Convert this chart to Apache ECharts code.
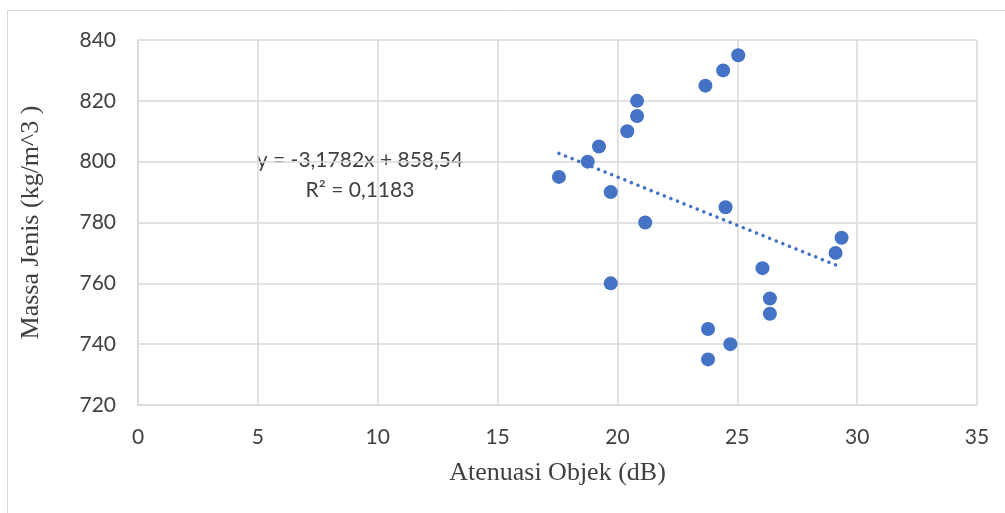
<!DOCTYPE html>
<html>
<head>
<meta charset="utf-8">
<script src="https://cdn.jsdelivr.net/npm/echarts@6/dist/echarts.min.js"></script>
<style>html,body{margin:0;padding:0;background:#fff}#c{width:1005px;height:513px}</style>
</head>
<body>
<div id="c"></div>
<script>
const atenuasi = [17.56, 18.76, 19.23, 19.72, 19.72, 20.41, 20.82, 20.82, 21.16, 23.67, 23.78, 23.78, 24.41, 24.51, 24.71, 25.04, 26.05, 26.36, 26.36, 29.1, 29.35];
const massa    = [795, 800, 805, 790, 760, 810, 815, 820, 780, 825, 745, 735, 830, 785, 740, 835, 765, 755, 750, 770, 775];
const slope = -3.1782;
const intercept = 858.54;
const trendX = [17.56, 29.35];
const equationText = 'y = -3,1782x + 858,54';
const r2Text = 'R² = 0,1183';
const xTitle = 'Atenuasi Objek (dB)';
const yTitle = 'Massa Jenis (kg/m^3 )';

const points = atenuasi.map((x, i) => [x, massa[i]]);
const trend = trendX.map(x => [x, slope * x + intercept]);

const chart = echarts.init(document.getElementById('c'));
const grid = '#d9d9d9';
const labelFont = { fontFamily: 'Lato, "Open Sans", sans-serif', fontSize: 21, color: '#404040' };
chart.setOption({
  animation: false,
  grid: { left: 138, top: 40, right: 28, bottom: 108 },
  xAxis: {
    type: 'value', min: 0, max: 35, interval: 5,
    name: xTitle, nameLocation: 'middle', nameGap: 55,
    nameTextStyle: { fontFamily: '"Liberation Serif", serif', fontSize: 26, color: '#404040' },
    axisLine: { show: true, lineStyle: { color: grid, width: 1.5 } },
    axisTick: { show: false },
    axisLabel: Object.assign({ margin: 22 }, labelFont),
    splitLine: { show: true, lineStyle: { color: grid, width: 1.5 } }
  },
  yAxis: {
    type: 'value', min: 720, max: 840, interval: 20,
    name: yTitle, nameLocation: 'middle', nameGap: 94,
    nameTextStyle: { fontFamily: '"Liberation Serif", serif', fontSize: 26, color: '#404040' },
    axisLine: { show: true, lineStyle: { color: grid, width: 1.5 } },
    axisTick: { show: false },
    axisLabel: Object.assign({ margin: 22 }, labelFont),
    splitLine: { show: true, lineStyle: { color: grid, width: 1.5 } }
  },
  series: [
    {
      type: 'line', data: trend, symbol: 'none', z: 1,
      lineStyle: { color: '#4472C4', width: 3.5, type: [0.1, 7], cap: 'round' }
    },
    {
      type: 'scatter', data: points, symbolSize: 14, z: 2,
      itemStyle: { color: '#4472C4', opacity: 1 }
    }
  ],
  graphic: [
    { type: 'rect', shape: { x: 7.5, y: 10.5, width: 1100, height: 600 }, style: { fill: null, stroke: grid, lineWidth: 1 }, silent: true, z: -10 },
    { type: 'text', x: 360, y: 160, style: { text: equationText, align: 'center', verticalAlign: 'middle', font: '21px Lato, "Open Sans", sans-serif', fill: '#404040' } },
    { type: 'text', x: 360, y: 190, style: { text: r2Text, align: 'center', verticalAlign: 'middle', font: '21px Lato, "Open Sans", sans-serif', fill: '#404040' } }
  ]
});
</script>
</body>
</html>
